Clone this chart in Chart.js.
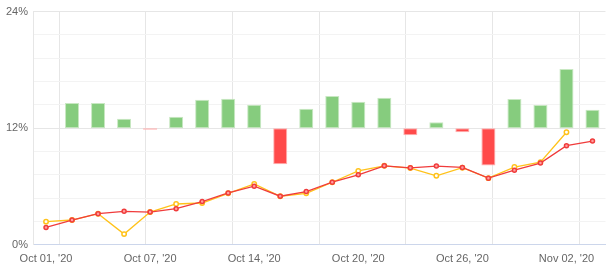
<!DOCTYPE html>
<html>
<head>
<meta charset="utf-8">
<script src="https://cdn.jsdelivr.net/npm/chart.js@4"></script>
<style>
  html, body { margin: 0; padding: 0; background: #fff; }
  #wrap { width: 611px; height: 274px; }
</style>
</head>
<body>
<div id="wrap"><canvas id="perfChart"></canvas></div>
<script>
// trading days, one label shown every 4th day
const dates = [
  "Oct 01, '20", "Oct 02, '20", "Oct 05, '20", "Oct 06, '20",
  "Oct 07, '20", "Oct 08, '20", "Oct 09, '20", "Oct 13, '20",
  "Oct 14, '20", "Oct 15, '20", "Oct 16, '20", "Oct 19, '20",
  "Oct 20, '20", "Oct 21, '20", "Oct 22, '20", "Oct 23, '20",
  "Oct 26, '20", "Oct 27, '20", "Oct 28, '20", "Oct 29, '20",
  "Nov 02, '20", "Nov 03, '20"
];

// daily bars, drawn from the 12% baseline
const barBase = 12;
const barTops = [
  null, 14.6, 14.6, 12.96, 11.85, 13.17, 14.93, 15.03, 14.41, 8.28, 14.0,
  15.31, 14.72, 15.13, 11.28, 12.62, 11.59, 8.17, 15.0, 14.38, 18.1, 13.89
];

const redLine = [
  1.79, 2.55, 3.2, 3.44, 3.37, 3.72, 4.45, 5.34, 6.03, 5.0, 5.48,
  6.44, 7.2, 8.13, 7.92, 8.1, 7.96, 6.86, 7.68, 8.41, 10.2, 10.68
];

const yellowLine = [
  2.38, 2.55, 3.2, 1.1, 3.37, 4.2, 4.3, 5.3, 6.27, 5.0, 5.3,
  6.44, 7.61, 8.13, 7.9, 7.1, 7.93, 6.86, 8.0, 8.51, 11.58, null
];

const yMax = 24;
const yStep = 1.2;      // light grid lines
const yLabelEvery = 6;  // labelled lines

const labelEvery = 4;

const barData = barTops.map(v => v === null ? null : [barBase, v]);
const barFill = barTops.map(v => v !== null && v < barBase ? '#ff4a4a' : '#86cc7e');
const barEdge = barTops.map(v => v !== null && v < barBase ? '#ffb0b0' : '#c8e8c2');

const isMajor = v => Math.abs(v / yLabelEvery - Math.round(v / yLabelEvery)) < 1e-6;

const ctx = document.getElementById('perfChart').getContext('2d');
new Chart(ctx, {
    type: 'bar',
    data: {
        labels: dates,
        datasets: [{
            type: 'line',
            label: 'Benchmark',
            data: redLine,
            borderColor: '#f03c3c',
            borderWidth: 1.3,
            pointRadius: 2,
            pointBorderWidth: 1.5,
            pointBackgroundColor: '#ffa0a0',
            pointBorderColor: '#f03c3c',
            tension: 0,
            order: 0
        }, {
            type: 'line',
            label: 'Portfolio',
            data: yellowLine,
            borderColor: '#ffc21a',
            borderWidth: 1.3,
            pointRadius: 2.2,
            pointBorderWidth: 1.5,
            pointBackgroundColor: '#ffffff',
            pointBorderColor: '#ffc21a',
            tension: 0,
            order: 1
        }, {
            label: 'Daily',
            data: barData,
            backgroundColor: barFill,
            borderColor: barEdge,
            borderWidth: 1,
            borderSkipped: false,
            categoryPercentage: 1,
            barPercentage: 0.54,
            order: 2
        }]
    },
    options: {
        responsive: true,
        maintainAspectRatio: false,
        animation: false,
        layout: {
            padding: { left: 1, right: 5, top: 10, bottom: 0 }
        },
        plugins: {
            legend: { display: false },
            tooltip: { enabled: false }
        },
        scales: {
            x: {
                grid: { display: false, drawTicks: false },
                border: { color: '#ccd6eb' },
                ticks: {
                    autoSkip: false,
                    maxRotation: 0,
                    minRotation: 0,
                    padding: 8,
                    color: '#666666',
                    font: { family: 'Liberation Sans', size: 11 },
                    callback: function(value, index) {
                        return index % labelEvery === 0 ? this.getLabelForValue(value) : '';
                    }
                }
            },
            xGrid: {
                type: 'linear',
                position: 'bottom',
                min: -0.5,
                max: dates.length - 0.5,
                ticks: { display: false },
                border: { display: false },
                grid: { color: '#e6e6e6', drawTicks: false },
                afterBuildTicks: function(axis) {
                    const t = [];
                    for (let i = 0; i < dates.length; i += labelEvery) t.push({ value: i + 0.5 });
                    axis.ticks = t;
                }
            },
            y: {
                min: 0,
                max: yMax,
                border: { color: '#e6e6e6' },
                grid: {
                    drawTicks: false,
                    color: c => isMajor(c.tick.value) ? '#e6e6e6' : '#f3f3f3'
                },
                afterBuildTicks: function(axis) {
                    const t = [];
                    for (let i = 0; i * yStep <= yMax + 1e-9; i++) t.push({ value: Math.round(i * yStep * 10) / 10 });
                    axis.ticks = t;
                },
                ticks: {
                    padding: 5,
                    color: '#666666',
                    font: { family: 'Liberation Sans', size: 11 },
                    callback: v => isMajor(v) ? Math.round(v) + '%' : ''
                }
            }
        }
    }
});
</script>
</body>
</html>
